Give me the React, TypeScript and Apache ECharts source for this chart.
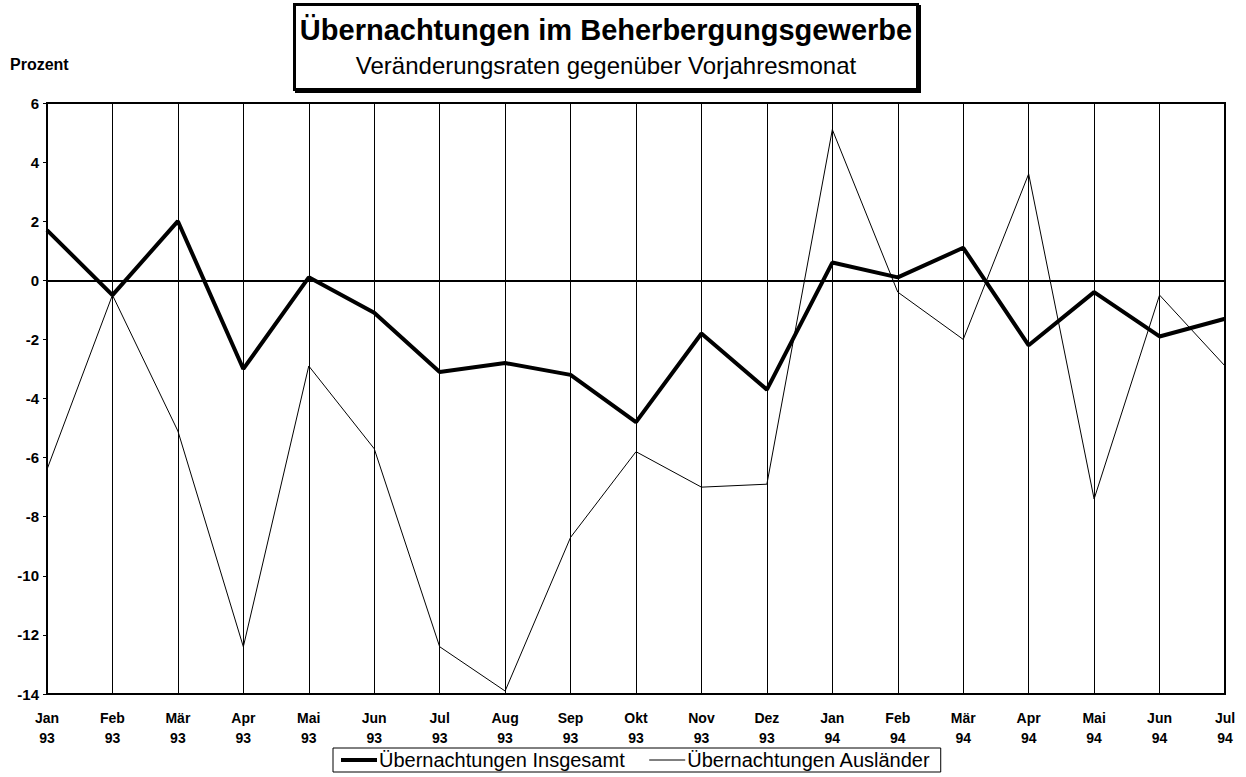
import React, { useEffect, useRef } from "react";
import * as echarts from "echarts";

const months = ["Jan", "Feb", "Mär", "Apr", "Mai", "Jun", "Jul", "Aug", "Sep", "Okt", "Nov", "Dez", "Jan", "Feb", "Mär", "Apr", "Mai", "Jun", "Jul"];
const years = ["93", "93", "93", "93", "93", "93", "93", "93", "93", "93", "93", "93", "94", "94", "94", "94", "94", "94", "94"];
const insgesamt = [1.7, -0.5, 2.0, -3.0, 0.1, -1.1, -3.1, -2.8, -3.2, -4.8, -1.8, -3.7, 0.6, 0.1, 1.1, -2.2, -0.4, -1.9, -1.3];
const auslaender = [-6.4, -0.5, -5.1, -12.4, -2.9, -5.7, -12.4, -13.9, -8.7, -5.8, -7.0, -6.9, 5.1, -0.4, -2.0, 3.6, -7.4, -0.5, -2.9];
const seriesNames = ["Übernachtungen Insgesamt", "Übernachtungen Ausländer"];
const titleText = "Übernachtungen im Beherbergungsgewerbe";
const subtitleText = "Veränderungsraten gegenüber Vorjahresmonat";
const yUnit = "Prozent";

const FONT = "Liberation Sans, Arial, sans-serif";

export default function App() {
  const ref = useRef<HTMLDivElement>(null);
  useEffect(() => {
    document.body.style.margin = "0";
    const chart = echarts.init(ref.current!, null, { renderer: "svg" });
    const categories = months.map((m, i) => m + "\n" + years[i]);
    chart.setOption({
      animation: false,
      backgroundColor: "#ffffff",
      textStyle: { fontFamily: FONT, color: "#000" },
      title: {
        text: titleText,
        subtext: subtitleText,
        left: 600,
        top: 4,
        padding: [9, 6, 11, 6],
        itemGap: 5,
        backgroundColor: "#fff",
        borderColor: "#000",
        borderWidth: 3,
        shadowColor: "#000",
        shadowBlur: 0,
        shadowOffsetX: 2,
        shadowOffsetY: 2,
        textAlign: "center",
        textStyle: { fontFamily: FONT, fontSize: 29, fontWeight: "bold", color: "#000", lineHeight: 33 },
        subtextStyle: { fontFamily: FONT, fontSize: 24, color: "#000", lineHeight: 28 },
      },
      legend: {
        left: 333,
        top: 748,
        data: [
          { name: seriesNames[0], lineStyle: { width: 4, color: "#000" } },
          { name: seriesNames[1], lineStyle: { width: 1, color: "#000" } },
        ],
        orient: "horizontal",
        borderColor: "#000",
        borderWidth: 1,
        padding: [2, 10, 2, 6],
        itemGap: 24,
        itemWidth: 36,
        itemHeight: 14,
        itemStyle: { opacity: 0 },
        textStyle: { fontFamily: FONT, fontSize: 20, color: "#000", padding: [0, 0, 0, -3] },
      },
      graphic: [
        {
          type: "text",
          left: 10,
          top: 56,
          style: { text: yUnit, font: "bold 16px " + FONT, fill: "#000" },
        },
      ],
      grid: {
        left: 47,
        right: 21,
        top: 103,
        bottom: 83,
        show: true,
        borderColor: "#000",
        borderWidth: 2,
        containLabel: false,
      },
      xAxis: {
        type: "category",
        data: categories,
        boundaryGap: false,
        axisLine: { show: true, lineStyle: { color: "#000", width: 2 } },
        axisTick: { show: false },
        axisLabel: {
          interval: 0,
          color: "#000",
          fontFamily: FONT,
          fontWeight: "bold",
          fontSize: 14,
          lineHeight: 20,
          margin: 14,
        },
        splitLine: { show: true, lineStyle: { color: "#000", width: 1 } },
      },
      yAxis: {
        type: "value",
        min: -14,
        max: 6,
        interval: 2,
        axisLine: { show: true, lineStyle: { color: "#000", width: 2 } },
        axisTick: { show: true, inside: false, length: 4, lineStyle: { color: "#000", width: 1 } },
        axisLabel: { color: "#000", fontFamily: FONT, fontWeight: "bold", fontSize: 15, margin: 8 },
        splitLine: { show: false },
      },
      series: [
        {
          name: seriesNames[0],
          type: "line",
          data: insgesamt,
          symbol: "none",
          lineStyle: { color: "#000", width: 4 },
          itemStyle: { color: "#000" },
          z: 3,
          markLine: {
            silent: true,
            symbol: "none",
            label: { show: false },
            lineStyle: { color: "#000", width: 1, type: [12, 5, 3, 5] },
            data: [{ yAxis: 0 }],
          },
        },
        {
          name: seriesNames[1],
          type: "line",
          data: auslaender,
          symbol: "none",
          lineStyle: { color: "#000", width: 1 },
          itemStyle: { color: "#000" },
          z: 2,
        },
      ],
    });
    return () => chart.dispose();
  }, []);
  return <div ref={ref} style={{ position: "fixed", left: 0, top: 0, width: 1246, height: 777 }} />;
}
